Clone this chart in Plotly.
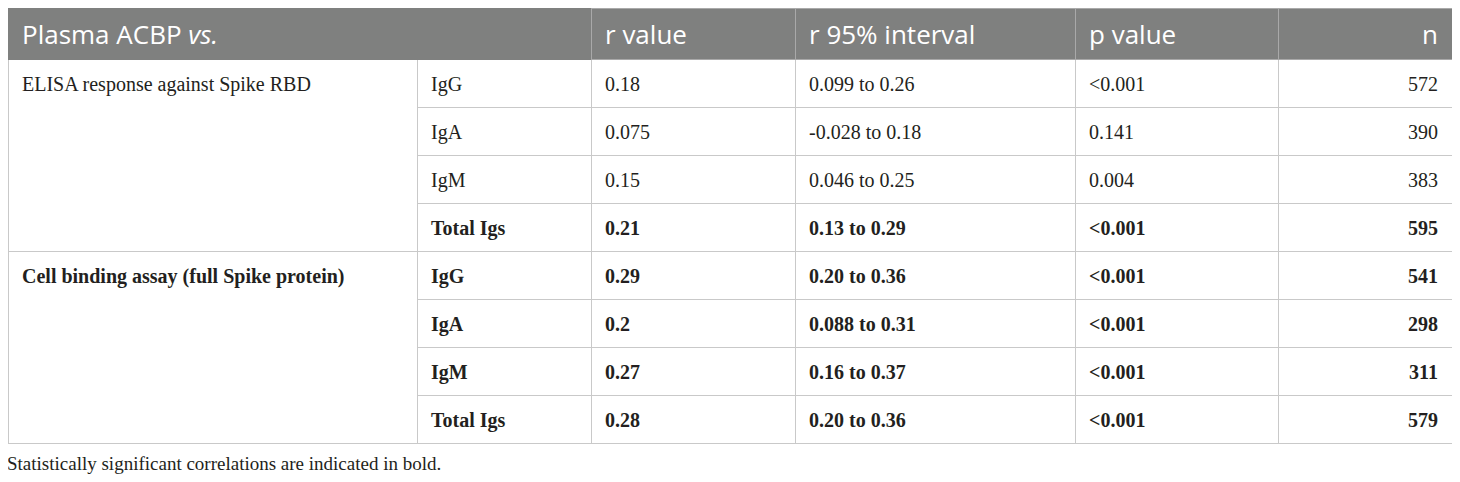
import plotly.graph_objects as go

# ---- data ----
header_labels = ["Plasma ACBP <i>vs.</i>", "", "r value", "r 95% interval", "p value", "n"]
group_labels = ["ELISA response against Spike RBD", "Cell binding assay (full Spike protein)"]
group_sizes = [4, 4]
group_bold = [False, True]
antibodies = ["IgG", "IgA", "IgM", "Total Igs", "IgG", "IgA", "IgM", "Total Igs"]
r_values = ["0.18", "0.075", "0.15", "0.21", "0.29", "0.2", "0.27", "0.28"]
r_intervals = ["0.099 to 0.26", "-0.028 to 0.18", "0.046 to 0.25", "0.13 to 0.29",
               "0.20 to 0.36", "0.088 to 0.31", "0.16 to 0.37", "0.20 to 0.36"]
p_values = ["<0.001", "0.141", "0.004", "<0.001", "<0.001", "<0.001", "<0.001", "<0.001"]
n_values = [572, 390, 383, 595, 541, 298, 311, 579]
significant = [False, False, False, True, True, True, True, True]
footnote = "Statistically significant correlations are indicated in bold."

# ---- layout / style (pixel positions in the 1460x482 page) ----
PAGE_OFF = 8                       # default body margin of the html page
W, H = 1460 - PAGE_OFF, 482 - PAGE_OFF
col_edges = [8, 417, 591, 795, 1075, 1278, 1452]
top_px = 8
header_h = 51
row_h = 48
text_dx = 6        # extra horizontal inset of text
text_top = 8       # top of the text layer
text_header_h = 57
HEAD = "#7f807f"
HLINE = "#a9a9a9"
GRID = "#c9c9c9"
TXT = "#231f20"
CLEAR = "rgba(0,0,0,0)"
SERIF = "Liberation Serif"
SANS = "Open Sans"
BODY_SIZE = 20
HEAD_SIZE = 26
FOOT_SIZE = 19


def px_x(x):
    return min(1, max(0, (x - PAGE_OFF) / W))


def px_y(y):
    return min(1, max(0, 1 - (y - PAGE_OFF) / H))


def fmt(s, bold=False):
    if s == "":
        return s
    return f"<b>{s}</b>" if bold else f"<span>{s}</span>"


n_rows = len(antibodies)
grid_bottom = top_px + header_h + row_h * n_rows + 4
grid_ydom = [px_y(grid_bottom), px_y(top_px)]
aligns = ["left"] * 5 + ["right"]

# ---- grid: merged group column ----
gridA = go.Table(
    domain=dict(x=[px_x(col_edges[0]), px_x(col_edges[1])], y=grid_ydom),
    columnwidth=[1],
    header=dict(values=[""], height=header_h,
                fill=dict(color=HEAD), line=dict(color=HEAD, width=1)),
    cells=dict(values=[[""] * len(group_sizes)],
               height=row_h * group_sizes[0],
               fill=dict(color="white"), line=dict(color=GRID, width=1)),
    hoverinfo="skip",
)

# ---- grid: remaining columns ----
widths = [col_edges[i + 1] - col_edges[i] for i in range(len(col_edges) - 1)]
gridB = go.Table(
    domain=dict(x=[px_x(col_edges[1]), px_x(col_edges[-1])], y=grid_ydom),
    columnwidth=widths[1:],
    header=dict(values=[""] * 5, height=header_h,
                fill=dict(color=HEAD), line=dict(color=[HEAD] + [HLINE] * 4, width=1)),
    cells=dict(values=[[""] * n_rows for _ in range(5)], height=row_h,
               fill=dict(color="white"), line=dict(color=GRID, width=1)),
    hoverinfo="skip",
)

# ---- text layer ----
group_col = []
for g, size, f in zip(group_labels, group_sizes, group_bold):
    group_col += [fmt(g, f)] + [""] * (size - 1)
cols = [
    group_col,
    [fmt(v, s) for v, s in zip(antibodies, significant)],
    [fmt(v, s) for v, s in zip(r_values, significant)],
    [fmt(v, s) for v, s in zip(r_intervals, significant)],
    [fmt(v, s) for v, s in zip(p_values, significant)],
    [fmt(str(v), s) for v, s in zip(n_values, significant)],
]
text_widths = widths[:-1] + [widths[-1] - 2 * text_dx]
text_bottom = text_top + text_header_h + row_h * n_rows + 4
textT = go.Table(
    domain=dict(x=[px_x(col_edges[0] + text_dx), px_x(col_edges[-1] - text_dx)],
                y=[px_y(text_bottom), px_y(text_top)]),
    columnwidth=text_widths,
    header=dict(values=[h if ("<" in h or h == "") else fmt(h) for h in header_labels],
                height=text_header_h,
                fill=dict(color=CLEAR), line=dict(color=CLEAR, width=0),
                font=dict(family=SANS, size=HEAD_SIZE, color="white"), align=aligns),
    cells=dict(values=cols, height=row_h,
               fill=dict(color=CLEAR), line=dict(color=CLEAR, width=0),
               font=dict(family=SERIF, size=BODY_SIZE, color=TXT), align=aligns),
    hoverinfo="skip",
)

fig = go.Figure([gridA, gridB, textT])
fig.update_layout(
    width=W, height=H,
    margin=dict(l=0, r=0, t=0, b=0),
    paper_bgcolor="white",
    annotations=[dict(text=footnote, xref="paper", yref="paper",
                      x=-3 / W, y=px_y(463), xanchor="left", yanchor="middle",
                      showarrow=False, font=dict(family=SERIF, size=FOOT_SIZE, color=TXT))],
)
fig.write_html("out.html")
